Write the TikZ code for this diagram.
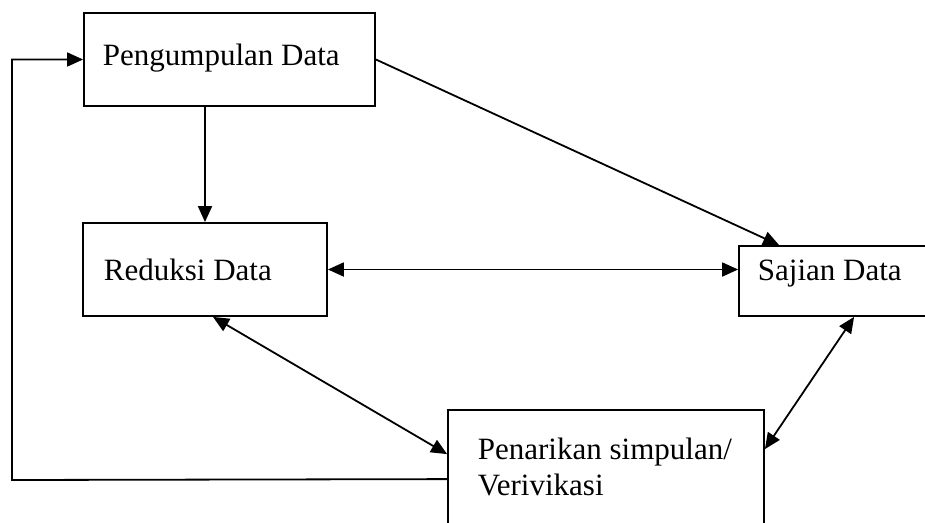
\documentclass[tikz,border=0pt]{standalone}
\usepackage{fontspec}
\setmainfont{Liberation Serif}
\usetikzlibrary{arrows.meta}
\begin{document}
\begin{tikzpicture}[x=1pt,y=-1pt,line width=1.8pt,
  kotak/.style={draw,rectangle,inner sep=0pt},
  tulisan/.style={inner sep=0pt,anchor=base west,align=left},
  panah/.style={-{Triangle[length=16pt,width=14pt]}},
  duapanah/.style={{Triangle[length=16pt,width=14pt]}-{Triangle[length=16pt,width=14pt]}}]
\fontsize{31}{36}\selectfont
\useasboundingbox (0,0) rectangle (925,522);
\node[kotak,minimum width=291pt,minimum height=93pt] (kumpul) at (229.5,59.5) {};
\node[kotak,minimum width=244pt,minimum height=93pt] (reduksi) at (205,269.5) {};
\node[kotak,minimum width=221pt,minimum height=70pt] (sajian) at (849.5,281) {};
\node[kotak,minimum width=316pt,minimum height=150pt] (tarik) at (606,485) {};
\node[tulisan] (tkumpul) at (102,65) {Pengumpulan Data};
\node[tulisan] (treduksi) at (103,280) {Reduksi Data};
\node[tulisan] (tsajian) at (757,280) {Sajian Data};
\node[tulisan] (ttarik) at (477,495) {Penarikan simpulan/\\Verivikasi};
\coordinate (balik) at (12,480);
\draw[panah] (reduksi.north |- kumpul.south) -- (reduksi.north);
\draw[panah] (kumpul.east) -- ([xshift=41pt]sajian.north west);
\draw[duapanah] (reduksi.east) -- (sajian.west |- reduksi.east);
\draw[duapanah] ([xshift=8pt]reduksi.south) -- ([yshift=-45pt]tarik.north west);
\draw[duapanah] ([xshift=116pt]sajian.south west) -- ([yshift=-40pt]tarik.north east);
\draw[panah] ([yshift=-70pt]tarik.north west) -- (balik) |- (kumpul.west);
\end{tikzpicture}
\end{document}
